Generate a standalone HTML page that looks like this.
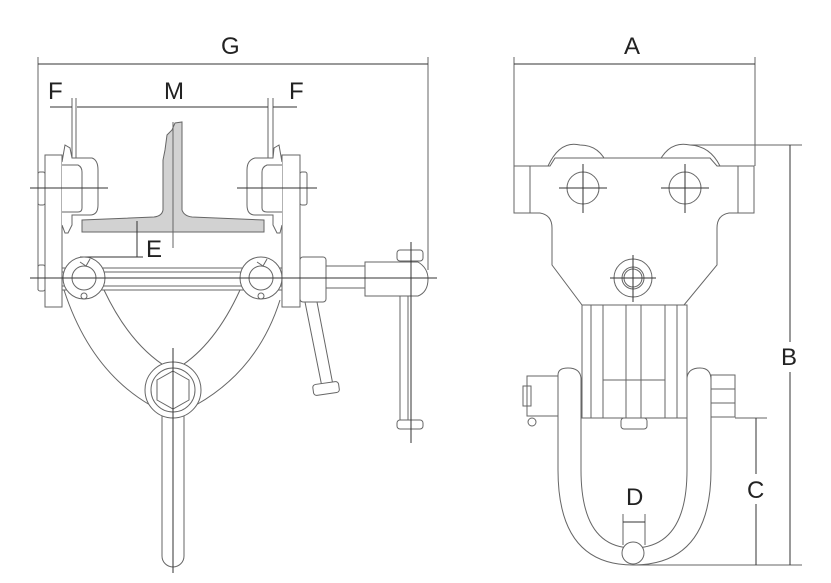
<!DOCTYPE html>
<html><head><meta charset="utf-8"><style>
html,body{margin:0;padding:0;background:#fff;}
svg{display:block}
text{font-family:"Liberation Sans",sans-serif;font-size:24px;fill:#222;}
</style></head><body>
<svg width="831" height="583" viewBox="0 0 831 583" xmlns="http://www.w3.org/2000/svg">
<g fill="none" stroke="#666" stroke-width="1">
<!-- G dim -->
<line x1="38" y1="57" x2="38" y2="290"/>
<line x1="428" y1="57" x2="428" y2="270"/>
<line x1="38" y1="64" x2="428" y2="64" stroke="#333"/>
<!-- M/F dims -->
<line x1="72" y1="98" x2="72" y2="158"/><line x1="76" y1="98" x2="76" y2="158"/>
<line x1="268" y1="98" x2="268" y2="158"/><line x1="273" y1="98" x2="273" y2="158"/>
<line x1="77" y1="107" x2="268" y2="107" stroke="#333"/>
<line x1="50" y1="107" x2="72" y2="107" stroke="#333"/>
<line x1="273" y1="107" x2="297" y2="107" stroke="#333"/>
<!-- beam -->
<path d="M167,135 L172,130 L175,123 L182,122 L182,210 Q184,216 192,217 L264,220 L264,232 L82,232 L82,220 L154,217 Q162,216 163,210 L163,160 L165,150 Z" fill="#d2d2d2" stroke="#666"/>
<line x1="173" y1="122" x2="173" y2="248"/>
<!-- left side plate & wheel -->
<rect x="45" y="155" width="17" height="152" fill="#fff"/>
<path d="M62,162 L65,145 L70,148 L72,158 L92,158 Q98,160 98,170 L98,205 Q98,215 90,215 L72,215 L72,225 L68,233 L65,233 L62,225" fill="#fff"/>
<path d="M62,165 L78,165 Q82,167 82,172 L82,208 Q82,212 78,212 L62,212"/>
<rect x="38" y="172" width="7" height="33" rx="2" fill="#fff"/>
<line x1="30" y1="188" x2="108" y2="188" stroke="#333"/>
<!-- right side plate & wheel -->
<rect x="282" y="155" width="18" height="152" fill="#fff"/>
<path d="M282,162 L279,145 L274,148 L273,158 L255,158 Q247,160 247,170 L247,205 Q247,215 255,215 L273,215 L273,225 L277,233 L280,233 L282,225" fill="#fff"/>
<path d="M282,165 L267,165 Q262,167 262,172 L262,208 Q262,212 267,212 L282,212"/>
<rect x="300" y="172" width="7" height="33" rx="2" fill="#fff"/>
<line x1="237" y1="188" x2="317" y2="188" stroke="#333"/>
<!-- E dim -->
<line x1="137" y1="221" x2="137" y2="257" stroke="#333"/>
<line x1="80" y1="257" x2="143" y2="257" stroke="#333"/>
<!-- arms -->
<path d="M64,290 Q90,370 150,405"/>
<path d="M280,300 Q258,370 196,405"/>
<path d="M104,290 Q130,345 168,368"/>
<path d="M240,290 Q215,345 178,368"/>
<!-- axle -->
<rect x="62" y="268" width="220" height="22" fill="#fff"/>
<line x1="62" y1="272" x2="282" y2="272"/><line x1="62" y1="286" x2="282" y2="286"/>
<rect x="38" y="265" width="7" height="26" rx="2" fill="#fff"/>
<circle cx="84" cy="278" r="21" fill="#fff"/><circle cx="84" cy="278" r="12"/>
<circle cx="84" cy="296" r="3"/><path d="M80,262 L86,266 L90,259"/>
<circle cx="261" cy="278" r="21" fill="#fff"/><circle cx="261" cy="278" r="12"/>
<circle cx="261" cy="296" r="3"/><path d="M257,262 L263,266 L267,259"/>
<!-- screw -->
<rect x="300" y="257" width="26" height="45" rx="3" fill="#fff"/>
<rect x="326" y="266" width="39" height="22" fill="#fff"/>
<path d="M365,262 L418,262 Q428,268 428,279 Q428,292 418,296 L365,296 Z" fill="#fff"/>
<rect x="400" y="296" width="8" height="125" fill="#fff"/>
<rect x="397" y="250" width="26" height="11" rx="3" fill="#fff"/>
<rect x="397" y="420" width="26" height="9" rx="3" fill="#fff"/>
<line x1="411" y1="242" x2="411" y2="443" stroke="#333"/>
<line x1="30" y1="278" x2="437" y2="278" stroke="#333"/>
<!-- handle -->
<path d="M305,302 L317,302 L333,385 L322,387 Z" fill="#fff"/>
<rect x="313" y="383" width="26" height="11" rx="3" fill="#fff" transform="rotate(-8 326 388)"/>
<!-- ring & stem -->
<rect x="162" y="405" width="22" height="162" rx="11" fill="#fff"/>
<circle cx="173" cy="390" r="28" fill="#fff"/>
<circle cx="173" cy="390" r="22"/>
<polygon points="173,371 189,380 189,400 173,409 157,400 157,380"/>
<line x1="173" y1="348" x2="173" y2="573" stroke="#333"/>

<!-- RIGHT VIEW -->
<line x1="514" y1="57" x2="514" y2="166"/>
<line x1="755" y1="57" x2="755" y2="166"/>
<line x1="514" y1="64" x2="755" y2="64" stroke="#333"/>
<path d="M548,166 Q560,140 580,145 Q600,145 608,166"/>
<path d="M657,166 Q668,140 690,145 Q710,146 720,166"/>
<path d="M514,166 L550,166 L555,158 L710,158 L717,166 L754,166 L754,213 L729,213 Q717,215 717,228 L717,265 L684,305 L582,305 L552,265 L552,228 Q552,215 540,213 L514,213 Z" fill="#fff"/>
<line x1="530" y1="166" x2="530" y2="213"/><line x1="738" y1="166" x2="738" y2="213"/>
<circle cx="583" cy="188" r="16"/><circle cx="685" cy="188" r="16"/>
<line x1="559" y1="188" x2="607" y2="188" stroke="#333"/><line x1="583" y1="164" x2="583" y2="213" stroke="#333"/>
<line x1="661" y1="188" x2="709" y2="188" stroke="#333"/><line x1="685" y1="164" x2="685" y2="213" stroke="#333"/>
<circle cx="633" cy="278" r="19"/><circle cx="633" cy="278" r="11"/><circle cx="633" cy="278" r="9"/>
<line x1="610" y1="278" x2="656" y2="278" stroke="#333"/><line x1="633" y1="255" x2="633" y2="302" stroke="#333"/>
<!-- shackle -->
<path d="M558,375 Q558,368 568,368 Q580,368 581,378 L581,470 Q581,548 633,548 Q687,548 687,470 L687,378 Q688,368 700,368 Q711,368 711,380 L711,470 Q711,565 633,565 Q558,565 558,470 Z" fill="#fff"/>
<rect x="582" y="305" width="105" height="113" fill="#fff"/>
<line x1="591" y1="305" x2="591" y2="418"/><line x1="603" y1="305" x2="603" y2="418"/>
<line x1="626" y1="305" x2="626" y2="418"/><line x1="641" y1="305" x2="641" y2="418"/>
<line x1="665" y1="305" x2="665" y2="418"/><line x1="677" y1="305" x2="677" y2="418"/>
<line x1="603" y1="380" x2="665" y2="380"/>
<rect x="621" y="418" width="26" height="11" rx="3" fill="#fff"/>
<rect x="711" y="375" width="24" height="42" fill="#fff"/>
<line x1="711" y1="389" x2="735" y2="389"/><line x1="711" y1="403" x2="735" y2="403"/>
<rect x="527" y="376" width="31" height="40" fill="#fff"/>
<rect x="523" y="386" width="8" height="20"/>
<circle cx="532" cy="422" r="4"/>
<circle cx="633" cy="553" r="11" fill="#fff"/>
<!-- B C D dims -->
<line x1="690" y1="145" x2="802" y2="145"/>
<line x1="635" y1="565" x2="802" y2="565"/>
<line x1="790" y1="145" x2="790" y2="342" stroke="#333"/>
<line x1="790" y1="372" x2="790" y2="565" stroke="#333"/>
<line x1="735" y1="418" x2="767" y2="418"/>
<line x1="756" y1="418" x2="756" y2="474" stroke="#333"/>
<line x1="756" y1="504" x2="756" y2="565" stroke="#333"/>
<line x1="623" y1="514" x2="623" y2="545"/><line x1="645" y1="514" x2="645" y2="545"/>
<line x1="623" y1="522" x2="645" y2="522" stroke="#333"/>
</g>
<text x="221" y="54">G</text>
<text x="48" y="99">F</text>
<text x="164" y="99">M</text>
<text x="289" y="99">F</text>
<text x="146" y="257">E</text>
<text x="624" y="54">A</text>
<text x="781" y="365">B</text>
<text x="747" y="498">C</text>
<text x="626" y="505">D</text>
</svg>
</body></html>
